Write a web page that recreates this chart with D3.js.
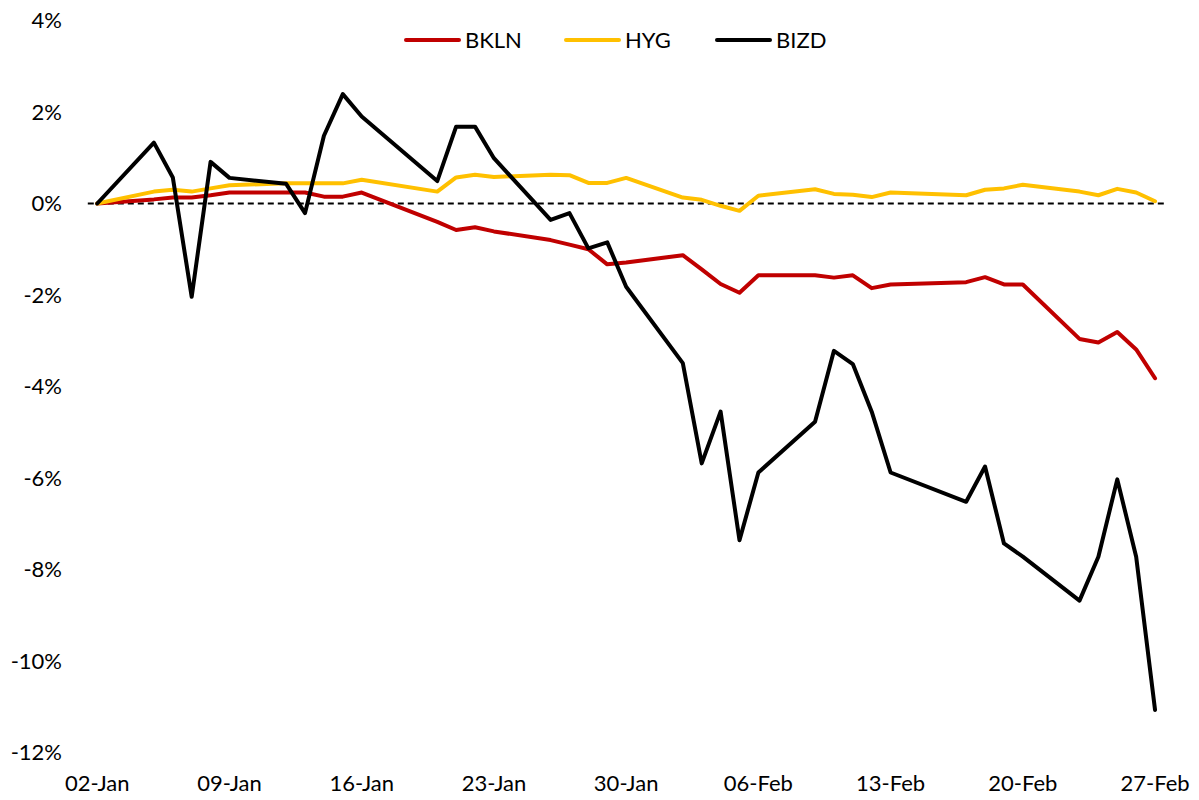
<!DOCTYPE html>
<html>
<head>
<meta charset="utf-8">
<script src="https://cdn.jsdelivr.net/npm/d3@7/dist/d3.min.js"></script>
<style>
  html, body { margin: 0; padding: 0; background: #fff; }
  svg { display: block; }
  text { font-family: Lato, "Open Sans", sans-serif; fill: #000; }
</style>
</head>
<body>
<svg id="chart" width="1199" height="800"></svg>
<script>
// ---- Data (cumulative return, %) ----
const dates = [
  "2026-01-02","2026-01-05","2026-01-06","2026-01-07","2026-01-08","2026-01-09",
  "2026-01-12","2026-01-13","2026-01-14","2026-01-15","2026-01-16",
  "2026-01-20","2026-01-21","2026-01-22","2026-01-23",
  "2026-01-26","2026-01-27","2026-01-28","2026-01-29","2026-01-30",
  "2026-02-02","2026-02-03","2026-02-04","2026-02-05","2026-02-06",
  "2026-02-09","2026-02-10","2026-02-11","2026-02-12","2026-02-13",
  "2026-02-17","2026-02-18","2026-02-19","2026-02-20",
  "2026-02-23","2026-02-24","2026-02-25","2026-02-26","2026-02-27"
];
const bkln = [
  0, 0.09, 0.13, 0.13, 0.18, 0.24,
  0.24, 0.24, 0.15, 0.15, 0.24,
  -0.40, -0.58, -0.52, -0.61,
  -0.80, -0.90, -1.00, -1.33, -1.29,
  -1.13, -1.44, -1.76, -1.95, -1.57,
  -1.57, -1.62, -1.57, -1.85, -1.77,
  -1.72, -1.61, -1.77, -1.77,
  -2.96, -3.04, -2.81, -3.19, -3.82
];
const hyg = [
  0, 0.26, 0.30, 0.26, 0.33, 0.40,
  0.44, 0.44, 0.44, 0.44, 0.52,
  0.26, 0.57, 0.63, 0.58,
  0.63, 0.62, 0.45, 0.45, 0.56,
  0.13, 0.08, -0.05, -0.16, 0.17,
  0.31, 0.21, 0.19, 0.14, 0.24,
  0.18, 0.30, 0.33, 0.41,
  0.26, 0.18, 0.32, 0.24, 0.05
];
const bizd = [
  0, 1.33, 0.57, -2.04, 0.91, 0.56,
  0.43, -0.21, 1.48, 2.39, 1.90,
  0.49, 1.68, 1.68, 0.99,
  -0.36, -0.21, -0.98, -0.85, -1.82,
  -3.49, -5.68, -4.55, -7.36, -5.88,
  -4.77, -3.22, -3.51, -4.55, -5.88,
  -6.52, -5.75, -7.43, -7.72,
  -8.68, -7.72, -6.03, -7.72, -11.07
];
const seriesNames = ["BKLN", "HYG", "BIZD"];
const seriesColors = ["#C00000", "#FFC000", "#000000"];
const xTickLabels = ["02-Jan","09-Jan","16-Jan","23-Jan","30-Jan","06-Feb","13-Feb","20-Feb","27-Feb"];
const yTicks = [4, 2, 0, -2, -4, -6, -8, -10, -12];

// ---- Chart ----
const svg = d3.select("#chart");
const parse = d3.utcParse("%Y-%m-%d");
const dayMs = 864e5;
const xDates = dates.map(parse);
const first = xDates[0], last = xDates[xDates.length - 1];

const x = d3.scaleUtc()
  .domain([new Date(+first - dayMs / 2), new Date(+last + dayMs / 2)])
  .range([87.8, 1164.5]);
const y = d3.scaleLinear().domain([-12, 4]).range([752.5, 20.5]);

// zero line (dashed)
svg.append("line")
  .attr("x1", x.range()[0]).attr("x2", x.range()[1])
  .attr("y1", y(0)).attr("y2", y(0))
  .attr("stroke", "#000").attr("stroke-width", 2)
  .attr("stroke-dasharray", "6,4");

// y axis labels
svg.append("g").selectAll("text").data(yTicks).join("text")
  .attr("x", 62).attr("y", d => y(d)).attr("dy", "0.35em")
  .attr("text-anchor", "end").attr("font-size", 22)
  .text(d => d + "%");

// x axis labels
const tickDates = d3.utcDay.range(first, new Date(+last + 1), 7);
svg.append("g").selectAll("text").data(tickDates).join("text")
  .attr("x", d => x(d)).attr("y", 783).attr("dy", "0.35em")
  .attr("text-anchor", "middle").attr("font-size", 22)
  .text((d, i) => xTickLabels[i]);

// lines
const allSeries = [bkln, hyg, bizd];
const line = d3.line().x((d, i) => x(xDates[i])).y(d => y(d));
allSeries.forEach((vals, k) => {
  svg.append("path").datum(vals)
    .attr("d", line)
    .attr("fill", "none")
    .attr("stroke", seriesColors[k])
    .attr("stroke-width", 4)
    .attr("stroke-linejoin", "round")
    .attr("stroke-linecap", "round");
});

// legend
const legendX = [406, 566, 717];
const legend = svg.append("g");
seriesNames.forEach((name, k) => {
  legend.append("line")
    .attr("x1", legendX[k]).attr("x2", legendX[k] + 53)
    .attr("y1", 40).attr("y2", 40)
    .attr("stroke", seriesColors[k]).attr("stroke-width", 4)
    .attr("stroke-linecap", "round");
  legend.append("text")
    .attr("x", legendX[k] + 59).attr("y", 40).attr("dy", "0.35em")
    .attr("font-size", 22)
    .text(name);
});
</script>
</body>
</html>
